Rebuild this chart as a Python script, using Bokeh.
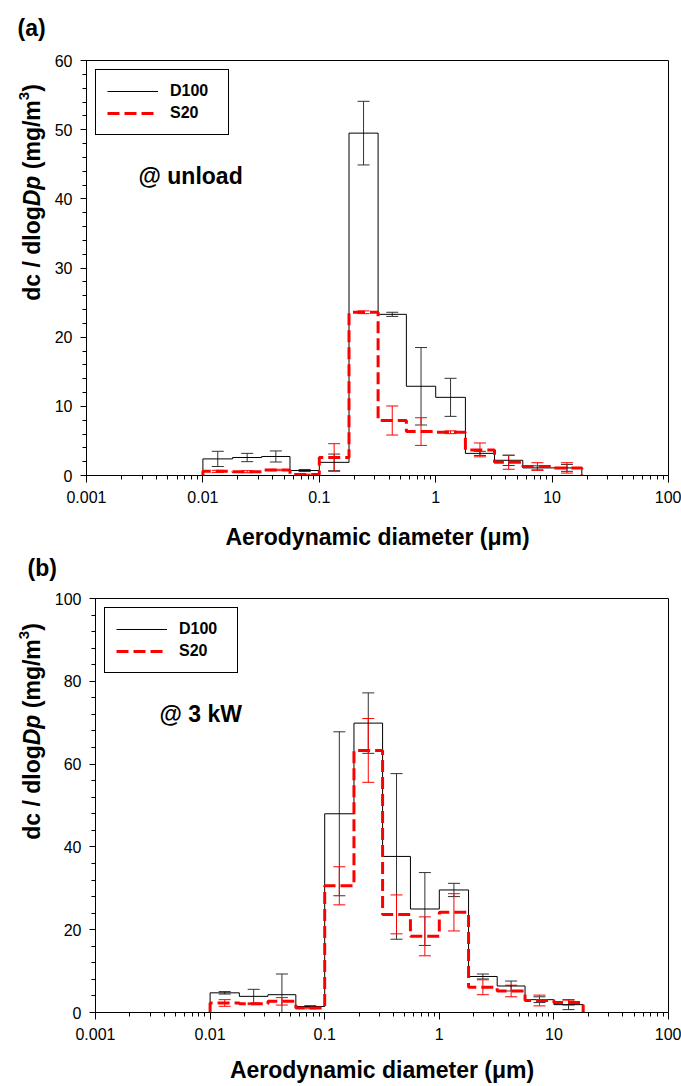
import math
import numpy as np
from bokeh.plotting import figure
from bokeh.models import (Range1d, FixedTicker, CustomJSTickFormatter, Whisker, TeeHead,
                          ColumnDataSource, Legend, LegendItem, Label)
from bokeh.layouts import column, row
from bokeh.embed import file_html
from bokeh.resources import INLINE

# ---------------- data ----------------
edges = [0.010, 0.018, 0.032, 0.056, 0.10, 0.18, 0.32, 0.56, 1.0, 1.8, 3.2, 5.6, 10.0, 18.0]

a_d100 = [2.4, 2.6, 2.75, 0.72, 1.9, 49.5, 23.3, 12.9, 11.3, 3.2, 2.2, 1.1, 1.1]
a_d100_err = [1.1, 0.6, 0.8, 0.15, 1.2, 4.6, 0.3, 5.6, 2.75, 0.3, 0.75, 0.3, 0.5]
a_s20 = [0.6, 0.55, 0.8, 0.15, 2.6, 23.6, 7.95, 6.35, 6.25, 3.7, 1.9, 1.3, 1.1]
a_s20_err = [0.15, 0.15, 0.1, 0.05, 2.0, 0.2, 2.1, 2.0, 0.2, 1.0, 1.0, 0.55, 0.75]

b_d100 = [4.75, 3.9, 4.3, 1.45, 48.0, 69.9, 37.7, 25.0, 29.6, 8.7, 6.4, 3.1, 1.9]
b_d100_err = [0.3, 1.7, 5.0, 0.2, 19.8, 7.3, 20.0, 8.8, 1.6, 0.6, 1.2, 0.7, 1.2]
b_s20 = [2.3, 2.1, 2.7, 1.1, 30.6, 63.3, 23.7, 18.4, 24.2, 6.1, 5.2, 2.9, 2.4]
b_s20_err = [0.8, 0.2, 0.9, 0.2, 4.6, 7.7, 4.7, 4.7, 4.5, 1.8, 1.4, 1.3, 0.6]

x_ticks = [0.001, 0.01, 0.1, 1, 10, 100]
a_yticks = [0, 10, 20, 30, 40, 50, 60]
b_yticks = [0, 20, 40, 60, 80, 100]
series_names = ["D100", "S20"]

FONT = "Liberation Sans"
BLACK_ERR = "#333333"
RED = "#ff0000"
TOTAL_W = 681
SIDE_W = 51

# Arial/Liberation Sans Bold advance widths (per 1000 em)
W_BOLD = {'d': 611, 'c': 556, ' ': 278, '/': 278, 'l': 278, 'o': 611, 'g': 611, 'D': 722,
          'p': 611, '(': 333, 'm': 889, '3': 556, ')': 333}


def text_w(s, size):
    return sum(W_BOLD[ch] for ch in s) * size / 1000.0


def step_path(e, v):
    xs = [e[0]]
    ys = [0.0]
    for i, val in enumerate(v):
        xs += [e[i], e[i + 1]]
        ys += [val, val]
    xs.append(e[-1])
    ys.append(0.0)
    return xs, ys


def blank_fig(width, height):
    f = figure(width=width, height=height, x_range=Range1d(0, 1), y_range=Range1d(0, 1),
               x_axis_location=None, y_axis_location=None, output_backend="svg",
               toolbar_location=None, min_border=0)
    f.xgrid.visible = False
    f.ygrid.visible = False
    f.outline_line_color = None
    f.background_fill_color = "white"
    f.border_fill_color = "white"
    return f


def tag_strip(height, tag, x, y):
    f = blank_fig(TOTAL_W, height)
    f.add_layout(Label(x=x, y=y, x_units="screen", y_units="screen", text=tag,
                       text_font=FONT, text_font_style="bold", text_font_size="23px",
                       text_baseline="middle", text_align="left", text_color="black"))
    return f


def ylabel_fig(height, xc, yc):
    f = blank_fig(SIDE_W, height)
    fs = 23
    sup = 15
    # (text, style, size, perpendicular shift, leading gap)
    pieces = [("dc / dlog", "bold", fs, 0, 0.0), ("Dp", "bold italic", fs, 0, 0.0),
              ("(mg/m", "bold", fs, 0, text_w(" ", fs)), ("3", "bold", sup, -8, 0.0),
              (")", "bold", fs, 0, 0.0)]
    total = sum(text_w(t, s) + g for t, _, s, _, g in pieces)
    yy = yc - total / 2.0
    for t, style, s, dx, gap in pieces:
        yy += gap
        f.add_layout(Label(x=xc + dx, y=yy, x_units="screen", y_units="screen",
                           text=t, angle=math.pi / 2, text_font=FONT, text_font_style=style,
                           text_font_size=f"{s}px", text_baseline="middle", text_align="left",
                           text_color="black"))
        yy += text_w(t, s)
    return f


def make_panel(height, min_left, min_top, min_bottom, ymax, yticks, yminor_step,
               d100, d100_err, s20, s20_err, note, note_pos, label_standoff, title_standoff):
    p = figure(width=TOTAL_W - SIDE_W, height=height, x_axis_type="log",
               x_range=Range1d(0.001, 100), y_range=Range1d(0, ymax),
               output_backend="svg", toolbar_location=None,
               min_border_left=min_left, min_border_right=13,
               min_border_top=min_top, min_border_bottom=min_bottom)
    p.xgrid.visible = False
    p.ygrid.visible = False
    p.outline_line_color = "black"
    p.outline_line_alpha = 1.0
    p.outline_line_width = 1
    p.background_fill_color = "white"
    p.border_fill_color = "white"

    mids = [math.sqrt(edges[i] * edges[i + 1]) for i in range(len(edges) - 1)]

    bx, by = step_path(edges, d100)
    r_black = p.line(bx, by, line_color="black", line_width=1)

    src_b = ColumnDataSource(dict(x=mids,
                                  up=[m + s for m, s in zip(d100, d100_err)],
                                  lo=[max(m - s, 0.0) for m, s in zip(d100, d100_err)]))
    p.add_layout(Whisker(source=src_b, base="x", upper="up", lower="lo", dimension="height",
                         line_color=BLACK_ERR, line_width=1,
                         upper_head=TeeHead(size=12, line_color=BLACK_ERR, line_width=1),
                         lower_head=TeeHead(size=12, line_color=BLACK_ERR, line_width=1)))

    rx, ry = step_path(edges, s20)
    r_red = p.line(rx, ry, line_color=RED, line_width=3, line_dash="12 5")

    src_r = ColumnDataSource(dict(x=mids,
                                  up=[m + s for m, s in zip(s20, s20_err)],
                                  lo=[max(m - s, 0.0) for m, s in zip(s20, s20_err)]))
    p.add_layout(Whisker(source=src_r, base="x", upper="up", lower="lo", dimension="height",
                         line_color=RED, line_width=1,
                         upper_head=TeeHead(size=12, line_color=RED, line_width=1),
                         lower_head=TeeHead(size=12, line_color=RED, line_width=1)))

    # axes
    minor_x = [m * 10.0 ** e for e in range(-3, 2) for m in range(2, 10)]
    xa = p.xaxis[0]
    xa.ticker = FixedTicker(ticks=x_ticks, minor_ticks=minor_x)
    xa.formatter = CustomJSTickFormatter(code="return tick.toString();")
    ya = p.yaxis[0]
    yminor = [float(v) for v in np.arange(0, ymax + 0.001, yminor_step)]
    ya.ticker = FixedTicker(ticks=yticks, minor_ticks=yminor)

    for ax in (xa, ya):
        ax.axis_line_color = "black"
        ax.axis_line_width = 1
        ax.major_tick_line_color = "black"
        ax.minor_tick_line_color = "black"
        ax.major_tick_line_width = 1
        ax.minor_tick_line_width = 1
        ax.major_tick_in = 0
        ax.minor_tick_in = 0
        ax.major_label_text_font = FONT
        ax.major_label_text_font_size = "16px"
        ax.major_label_text_color = "black"
    xa.major_tick_out = 7
    xa.minor_tick_out = 4
    ya.major_tick_out = 6
    ya.minor_tick_out = 4
    xa.major_label_standoff = label_standoff
    ya.major_label_standoff = 8

    xa.axis_label = "Aerodynamic diameter (\u03bcm)"
    xa.axis_label_text_font = FONT
    xa.axis_label_text_font_size = "23px"
    xa.axis_label_text_font_style = "bold"
    xa.axis_label_text_color = "black"
    xa.axis_label_standoff = title_standoff

    # legend
    legend = Legend(items=[LegendItem(label=series_names[0], renderers=[r_black]),
                           LegendItem(label=series_names[1], renderers=[r_red])],
                    location="top_left", margin=9, padding=11, spacing=2,
                    glyph_width=51, glyph_height=20, label_height=20, label_width=47,
                    label_standoff=12, label_text_font=FONT, label_text_font_style="bold",
                    label_text_font_size="16px", label_text_color="black",
                    border_line_color="black", border_line_width=1, border_line_alpha=1.0,
                    background_fill_color="white", background_fill_alpha=1.0)
    p.add_layout(legend)

    p.add_layout(Label(x=note_pos[0], y=note_pos[1], x_units="screen", y_units="screen",
                       text=note, text_font=FONT, text_font_style="bold",
                       text_font_size="23px", text_baseline="middle", text_align="left",
                       text_color="black"))
    return p


# ---- panel (a): page rows 0..553 ----
strip_a = tag_strip(45, "(a)", 17, 18)
side_a = ylabel_fig(508, 31.5, 283)
main_a = make_panel(508, 86 - SIDE_W, 15, 78, 60, a_yticks, 2,
                    a_d100, a_d100_err, a_s20, a_s20_err,
                    "@ unload", (52, 300), 8, 18)

# ---- panel (b): page rows 553..1086 ----
strip_b = tag_strip(30, "(b)", 27, 16)
side_b = ylabel_fig(503, 31.5, 281)
main_b = make_panel(503, 93 - SIDE_W, 15, 74, 100, b_yticks, 4,
                    b_d100, b_d100_err, b_s20, b_s20_err,
                    "@ 3 kW", (64, 299), 8, 14)

layout = column(strip_a, row(side_a, main_a, spacing=0),
                strip_b, row(side_b, main_b, spacing=0), spacing=0)
open("out.html", "w").write(file_html(layout, INLINE))
